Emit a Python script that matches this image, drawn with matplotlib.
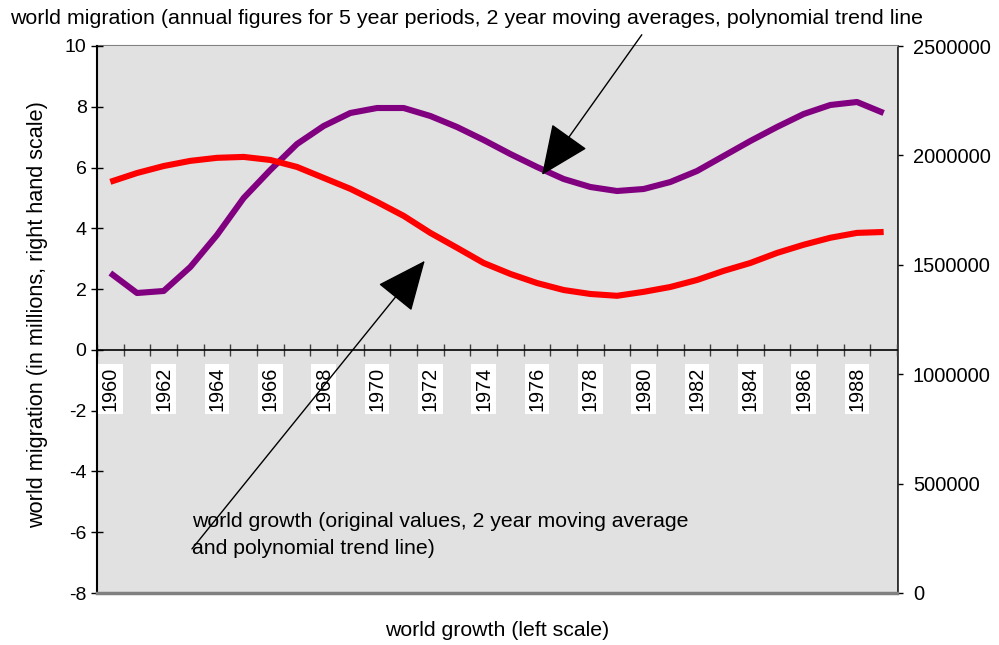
import matplotlib.pyplot as plt

plt.rcParams['font.family'] = ['Liberation Sans', 'DejaVu Sans']

# one category per year
years = list(range(1960, 1990))

# world growth, left scale (trend line)
growth = [5.53, 5.82, 6.05, 6.22, 6.32, 6.35, 6.25, 6.02, 5.66, 5.30,
          4.87, 4.41, 3.85, 3.36, 2.86, 2.50, 2.20, 1.97, 1.84, 1.78,
          1.91, 2.07, 2.30, 2.60, 2.86, 3.19, 3.46, 3.69, 3.85, 3.88]

# world migration, right scale (trend line)
migration = [1462500, 1371100, 1380300, 1490000, 1636200, 1805300, 1933300, 2052100,
             2134400, 2193800, 2216600, 2216600, 2180100, 2129800, 2070400, 2006400,
             1947000, 1892100, 1855600, 1837300, 1846400, 1878400, 1928700, 1997300,
             2065800, 2129800, 2189200, 2230400, 2244100, 2193800]

left_ticks = list(range(-8, 11, 2))
right_ticks = list(range(0, 2500001, 500000))

fig = plt.figure(figsize=(9.99, 6.45), dpi=100)
ax = fig.add_axes([97 / 999, 1 - 593 / 645, 800 / 999, 547 / 645])
ax2 = ax.twinx()

ax.set_facecolor('#e1e1e1')
ax.set_zorder(ax2.get_zorder() + 1)
ax2.patch.set_visible(False)

x = list(range(len(years)))

ax.set_xlim(-0.5, len(years) - 0.5)
ax.set_ylim(-8, 10)
ax2.set_ylim(0, 2500000)

# migration on the right scale, plotted through ax2's transform so it stays above the grey patch
ax.plot(x, migration, color='#800080', lw=4.4, solid_joinstyle='round',
        solid_capstyle='butt', transform=ax2.transData, zorder=3)
ax.plot(x, growth, color='#ff0000', lw=4.4, solid_joinstyle='round',
        solid_capstyle='butt', zorder=3)

# category axis crossing at zero
ax.spines['bottom'].set_position(('data', 0))
ax.spines['bottom'].set_color('black')
ax.spines['bottom'].set_linewidth(1.2)
ax.spines['top'].set_visible(False)
ax.spines['right'].set_visible(False)
ax.spines['left'].set_linewidth(1.5)
ax.set_xticks([i - 0.5 for i in range(len(years) + 1)])
ax.set_xticklabels([])
ax.tick_params(axis='x', direction='inout', length=9, width=1, color='#404040')

for i, yr in enumerate(years):
    if yr % 2 == 0:
        ax.text(i, -0.55, str(yr), rotation=90, ha='center', va='top', fontsize=14.3,
                bbox=dict(facecolor='white', edgecolor='none', pad=2.2), zorder=4)

ax.set_yticks(left_ticks)
ax.set_yticklabels([str(t) for t in left_ticks], fontsize=14)
ax.tick_params(axis='y', direction='inout', length=8, width=1)

for s in ['left', 'bottom']:
    ax2.spines[s].set_visible(False)
ax2.spines['top'].set_color('#808080')
ax2.spines['top'].set_linewidth(1.5)
ax2.spines['right'].set_color('#303030')
ax2.spines['right'].set_linewidth(2)
ax2.set_yticks(right_ticks)
ax2.set_yticklabels([str(t) for t in right_ticks], fontsize=14.5)
ax2.tick_params(axis='y', direction='inout', length=9, width=1, pad=7)
ax.axhline(-8, color='#808080', lw=2.5, zorder=5, clip_on=False)

fig.text(10 / 999, 1 - 18 / 645,
         'world migration (annual figures for 5 year periods, 2 year moving averages, polynomial trend line',
         fontsize=15.4, va='center', ha='left')
fig.text(38 / 999, 1 - 315 / 645, 'world migration (in millions, right hand scale)',
         fontsize=15.6, rotation=90, va='center', ha='center')
fig.text(497 / 999, 1 - 630 / 645, 'world growth (left scale)', fontsize=15.3,
         va='center', ha='center')

ax.text(3.06, -5.66, 'world growth (original values, 2 year moving average',
        fontsize=15.3, va='center', ha='left', zorder=4)
ax.text(3.06, -6.55, 'and polynomial trend line)', fontsize=15.3, va='center', ha='left', zorder=4)

head = '-|>,head_length=0.5,head_width=0.22'
ax.annotate('', xy=(16.19, 5.76), xytext=(19.93, 10.37), annotation_clip=False,
            arrowprops=dict(arrowstyle=head, mutation_scale=64, color='black', lw=1,
                            shrinkA=0, shrinkB=0), zorder=6)
ax.annotate('', xy=(11.79, 2.93), xytext=(3.06, -6.55), annotation_clip=False,
            arrowprops=dict(arrowstyle=head, mutation_scale=64, color='black', lw=1,
                            shrinkA=0, shrinkB=0), zorder=6)

fig.savefig('out.png', dpi=100)
